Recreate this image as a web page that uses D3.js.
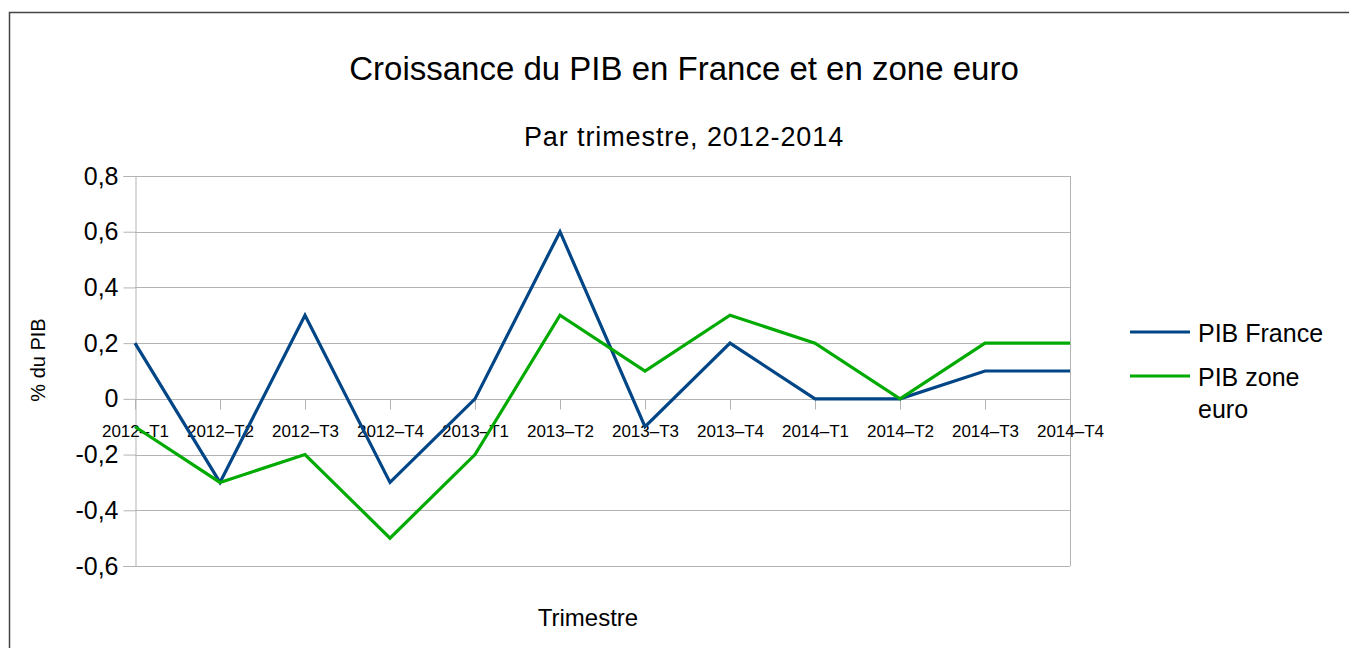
<!DOCTYPE html>
<html>
<head>
<meta charset="utf-8">
<script src="https://cdn.jsdelivr.net/npm/d3@7"></script>
<style>
  body { margin: 0; background: #fff; }
  text { font-family: "Liberation Sans", Arial, sans-serif; fill: #000; }
</style>
</head>
<body>
<svg id="chart" width="1349" height="648"></svg>
<script>
const quarters = ['2012–T1', '2012–T2', '2012–T3', '2012–T4', '2013–T1', '2013–T2',
  '2013–T3', '2013–T4', '2014–T1', '2014–T2', '2014–T3', '2014–T4'];
const franceValues = [0.2, -0.3, 0.3, -0.3, 0, 0.6, -0.1, 0.2, 0, 0, 0.1, 0.1];
const euroValues = [-0.1, -0.3, -0.2, -0.5, -0.2, 0.3, 0.1, 0.3, 0.2, 0, 0.2, 0.2];
const yTicks = [-0.6, -0.4, -0.2, 0, 0.2, 0.4, 0.6, 0.8];

const series = [
  { name: ['PIB France'], values: franceValues, color: '#004586' },
  { name: ['PIB zone', 'euro'], values: euroValues, color: '#00aa00' },
];

const svg = d3.select('#chart');
const plotLeft = 135, plotRight = 1070, plotTop = 176, plotBottom = 566;

// outer frame
svg.append('rect')
  .attr('x', 9.5).attr('y', 12.5)
  .attr('width', 1400).attr('height', 700)
  .attr('fill', 'none').attr('stroke', '#444').attr('stroke-width', 1.5);

const x = d3.scalePoint().domain(quarters).range([plotLeft, plotRight]);
const y = d3.scaleLinear().domain([-0.6, 0.8]).range([plotBottom, plotTop]);
const fmt = d => d3.format('.1f')(d).replace('.', ',').replace('−', '-').replace(',0', '');

// grid
svg.append('g').selectAll('line')
  .data(yTicks)
  .join('line')
  .attr('x1', plotLeft).attr('x2', plotRight)
  .attr('y1', d => Math.round(y(d)) + 0.5).attr('y2', d => Math.round(y(d)) + 0.5)
  .attr('stroke', '#b3b3b3');

svg.append('line')
  .attr('x1', plotRight + 0.5).attr('x2', plotRight + 0.5)
  .attr('y1', plotTop).attr('y2', plotBottom)
  .attr('stroke', '#b3b3b3');

// y axis
const yAxis = svg.append('g')
  .attr('transform', `translate(${plotLeft + 0.5},0)`)
  .call(d3.axisLeft(y).tickValues(yTicks).tickFormat(fmt).tickSize(12).tickPadding(5));
yAxis.select('.domain').attr('stroke', '#b3b3b3');
yAxis.selectAll('.tick line').attr('stroke', '#b3b3b3');
yAxis.selectAll('text').style('font-size', '25px').attr('fill', '#000');

// x axis on the zero line
const xAxis = svg.append('g')
  .attr('transform', `translate(0,${Math.round(y(0)) + 0.5})`)
  .call(d3.axisBottom(x).tickSize(10).tickPadding(15).tickSizeOuter(0));
xAxis.select('.domain').remove();
xAxis.selectAll('.tick line').attr('stroke', '#b3b3b3');
xAxis.selectAll('text').style('font-size', '17px').attr('fill', '#000');

// lines
const line = d3.line()
  .x((d, i) => x(quarters[i]))
  .y(d => y(d));

svg.append('g').selectAll('path')
  .data(series)
  .join('path')
  .attr('d', d => line(d.values))
  .attr('fill', 'none')
  .attr('stroke', d => d.color)
  .attr('stroke-width', 3.2)
  .attr('stroke-linejoin', 'miter');

// titles
svg.append('text')
  .attr('x', 684).attr('y', 80)
  .attr('text-anchor', 'middle')
  .style('font-size', '33px')
  .text('Croissance du PIB en France et en zone euro');

svg.append('text')
  .attr('x', 684).attr('y', 146)
  .attr('text-anchor', 'middle')
  .style('font-size', '27px')
  .style('letter-spacing', '0.9px')
  .text('Par trimestre, 2012-2014');

svg.append('text')
  .attr('transform', 'translate(45,360) rotate(-90)')
  .attr('text-anchor', 'middle')
  .style('font-size', '20px')
  .text('% du PIB');

svg.append('text')
  .attr('x', 588).attr('y', 626)
  .attr('text-anchor', 'middle')
  .style('font-size', '24px')
  .text('Trimestre');

// legend
const legendY = [332, 376];
const legend = svg.append('g').selectAll('g')
  .data(series)
  .join('g')
  .attr('transform', (d, i) => `translate(1130,${legendY[i]})`);

legend.append('line')
  .attr('x1', 0).attr('x2', 60)
  .attr('stroke', d => d.color).attr('stroke-width', 3.2);

legend.append('text')
  .attr('y', 10)
  .style('font-size', '25px')
  .selectAll('tspan')
  .data(d => d.name)
  .join('tspan')
  .attr('x', 68)
  .attr('dy', (d, i) => i === 0 ? 0 : 32)
  .text(d => d);
</script>
</body>
</html>
